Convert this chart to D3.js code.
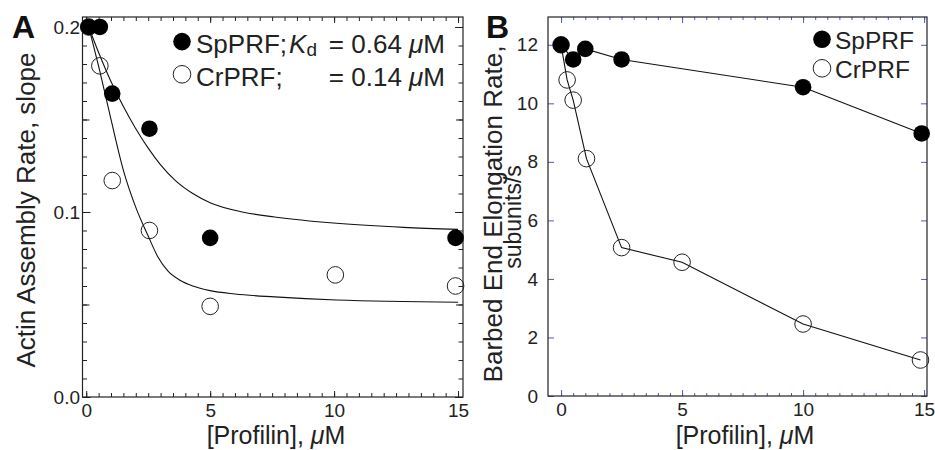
<!DOCTYPE html>
<html>
<head>
<meta charset="utf-8">
<script src="https://cdn.jsdelivr.net/npm/d3@7"></script>
<style>
  body { margin: 0; background: #fff; }
  svg { display: block; font-family: "Liberation Sans", Arial, Helvetica, sans-serif; }
</style>
</head>
<body>
<svg id="chart" width="935" height="450"></svg>
<script>
// A: actin assembly rate (slope) vs [profilin]
var assemblySpX = [0.1, 0.55, 1.05, 2.55, 5.0, 14.9],
    assemblySpY = [0.2, 0.2, 0.164, 0.145, 0.086, 0.086];
var assemblyCrX = [0.1, 0.55, 1.05, 2.55, 5.0, 10.05, 14.9],
    assemblyCrY = [0.2, 0.179, 0.117, 0.09, 0.049, 0.066, 0.06];

// fitted curves
var fitSpX = [0.1, 0.5, 1.0, 1.5, 2.0, 2.5, 3.0, 3.6, 4.3, 5.0, 6.3, 7.6, 10.1, 12.8, 15.0],
    fitSpY = [0.2, 0.1862, 0.1705, 0.157, 0.145, 0.1345, 0.1255, 0.117, 0.11, 0.105, 0.1, 0.0973, 0.0939, 0.0917, 0.0906];
var fitCrX = [0.1, 0.55, 1.0, 1.5, 2.0, 2.5, 2.9, 3.3, 3.8, 4.3, 5.0, 6.0, 7.6, 10.1, 15.0],
    fitCrY = [0.2, 0.176, 0.15, 0.1225, 0.1025, 0.087, 0.0755, 0.068, 0.063, 0.06, 0.0575, 0.0557, 0.0541, 0.0524, 0.0512];

// B: barbed end elongation rate vs [profilin]
var elongSpX = [0, 0.5, 1, 2.5, 10, 14.9],
    elongSpY = [12.0, 11.5, 11.86, 11.5, 10.55, 8.97];
var elongCrX = [0, 0.25, 0.5, 1.05, 2.5, 5, 10, 14.85],
    elongCrY = [12.0, 10.8, 10.11, 8.11, 5.07, 4.57, 2.46, 1.23];

var xMajor = [0, 5, 10, 15],
    xMinor = d3.range(0, 15.01, 0.5);
var yMajorA = [0, 0.1, 0.2], yMidA = [0.05, 0.15], yMinorA = d3.range(0, 0.2001, 0.01);
var yMajorB = [0, 2, 4, 6, 8, 10, 12];

var svg = d3.select("#chart");
var ink = "#222", blue = "#4a5cc0";

function zip(xs, ys) { return xs.map((v, i) => [v, ys[i]]); }

function panel(o) {
  var g = svg.append("g");
  var x = d3.scaleLinear().domain(o.xDomain).range(o.xRange),
      y = d3.scaleLinear().domain(o.yDomain).range(o.yRange);
  var left = o.xRange[0], right = o.xRange[1], bottom = o.yRange[0], top = o.yRange[1];

  function ticks(axis, tr, vals, size, fmt, pad) {
    var a = g.append("g").attr("transform", tr)
      .call(axis.tickValues(vals).tickSize(-size).tickSizeOuter(0)
        .tickPadding(pad || 0).tickFormat(fmt || (() => "")));
    a.select(".domain").remove();
    a.attr("font-size", 19).attr("font-family", null);
    a.selectAll("line").attr("stroke", o.tickColor).attr("stroke-width", 1);
    a.selectAll("text").attr("fill", ink);
  }

  // minor ticks on all four sides, then the major ones
  ticks(d3.axisBottom(x), "translate(0," + bottom + ")", xMinor, o.xMinorLen);
  ticks(d3.axisTop(x), "translate(0," + top + ")", xMinor, o.xMinorLen);
  ticks(d3.axisBottom(x), "translate(0," + bottom + ")", xMajor, 6, d3.format("d"), 6.5);
  ticks(d3.axisTop(x), "translate(0," + top + ")", xMajor, 6);
  o.yExtra.forEach(t => {
    ticks(d3.axisLeft(y), "translate(" + left + ",0)", t.vals, t.len);
    ticks(d3.axisRight(y), "translate(" + right + ",0)", t.vals, t.len);
  });
  ticks(d3.axisLeft(y), "translate(" + left + ",0)", o.yMajor, o.yMajorLen, o.yFormat, o.yPad);
  ticks(d3.axisRight(y), "translate(" + right + ",0)", o.yMajor, o.yMajorLen);

  g.append("rect")
    .attr("x", left).attr("y", top)
    .attr("width", right - left).attr("height", bottom - top)
    .attr("fill", "none").attr("stroke", ink).attr("stroke-width", 1.2);

  // x title
  var xt = g.append("text")
    .attr("x", o.xTitleX).attr("y", 444)
    .attr("text-anchor", "middle").attr("font-size", 25).attr("fill", ink);
  xt.append("tspan").text("[Profilin], ");
  xt.append("tspan").attr("font-style", "italic").text("\u03bc");
  xt.append("tspan").text("M");

  // panel letter
  g.append("text").attr("x", o.letterX).attr("y", 38)
    .attr("font-size", 32).attr("font-weight", "bold").attr("fill", "#111")
    .text(o.letter);

  return { g: g, x: x, y: y };
}

function marks(p, series, curve) {
  var line = d3.line().x(d => p.x(d[0])).y(d => p.y(d[1])).curve(curve);
  series.lines.forEach(pts => {
    p.g.append("path").datum(pts)
      .attr("d", line).attr("fill", "none")
      .attr("stroke", "#111").attr("stroke-width", 1.1);
  });
  p.g.append("g").selectAll("circle").data(series.open).join("circle")
    .attr("cx", d => p.x(d[0])).attr("cy", d => p.y(d[1])).attr("r", 8.3)
    .attr("fill", "none").attr("stroke", ink).attr("stroke-width", 1);
  p.g.append("g").selectAll("circle").data(series.filled).join("circle")
    .attr("cx", d => p.x(d[0])).attr("cy", d => p.y(d[1])).attr("r", 8.3)
    .attr("fill", "#000");
}

// ---- panel A ----
var A = panel({
  xDomain: [-0.15, 15.2], xRange: [82.5, 463],
  yDomain: [0, 0.2054], yRange: [397, 17],
  tickColor: ink, xMinorLen: 4,
  yMajor: yMajorA, yMajorLen: 8, yFormat: d3.format(".1f"), yPad: 2.5,
  yExtra: [{ vals: yMinorA, len: 4.5 }, { vals: yMidA, len: 7 }],
  xTitleX: 276, letter: "A", letterX: 12
});
marks(A, {
  lines: [zip(fitSpX, fitSpY), zip(fitCrX, fitCrY)],
  open: zip(assemblyCrX, assemblyCrY),
  filled: zip(assemblySpX, assemblySpY)
}, d3.curveMonotoneX);

A.g.append("text")
  .attr("transform", "translate(35,210) rotate(-90)")
  .attr("text-anchor", "middle").attr("font-size", 26).attr("fill", ink)
  .text("Actin Assembly Rate, slope");

// legend A
A.g.append("circle").attr("cx", 182).attr("cy", 41.6).attr("r", 8.8).attr("fill", "#000");
A.g.append("circle").attr("cx", 182).attr("cy", 74.3).attr("r", 8.8)
  .attr("fill", "none").attr("stroke", ink).attr("stroke-width", 1);
var l1 = A.g.append("text").attr("x", 196).attr("y", 52.7).attr("font-size", 26).attr("fill", ink);
l1.append("tspan").text("SpPRF;");
l1.append("tspan").attr("dx", 2).attr("font-style", "italic").text("K");
l1.append("tspan").attr("dy", 3).attr("font-size", 19).text("d");
var l2 = A.g.append("text").attr("x", 196).attr("y", 85.5).attr("font-size", 26).attr("fill", ink);
l2.append("tspan").text("CrPRF;");
[["0.64", 52.7], ["0.14", 85.5]].forEach(k => {
  var t = A.g.append("text").attr("x", 445).attr("y", k[1])
    .attr("text-anchor", "end").attr("font-size", 26).attr("fill", ink);
  t.append("tspan").text("= " + k[0] + " ");
  t.append("tspan").attr("font-style", "italic").text("\u03bc");
  t.append("tspan").text("M");
});

// ---- panel B ----
var B = panel({
  xDomain: [-0.54, 15.12], xRange: [548, 927],
  yDomain: [0, 12.95], yRange: [396, 17],
  tickColor: blue, xMinorLen: 3,
  yMajor: yMajorB, yMajorLen: 6, yFormat: d3.format("d"), yPad: 10,
  yExtra: [],
  xTitleX: 745, letter: "B", letterX: 486
});
marks(B, {
  lines: [zip(elongSpX, elongSpY), zip(elongCrX, elongCrY)],
  open: zip(elongCrX, elongCrY),
  filled: zip(elongSpX, elongSpY)
}, d3.curveLinear);

B.g.append("text")
  .attr("transform", "translate(502,214) rotate(-90)")
  .attr("text-anchor", "middle").attr("font-size", 26).attr("fill", ink)
  .text("Barbed End Elongation Rate,");
B.g.append("text")
  .attr("transform", "translate(521,217) rotate(-90)")
  .attr("text-anchor", "middle").attr("font-size", 23).attr("fill", ink)
  .text("subunits/s");

// legend B
B.g.append("circle").attr("cx", 822).attr("cy", 39.3).attr("r", 8.8).attr("fill", "#000");
B.g.append("circle").attr("cx", 822).attr("cy", 68.3).attr("r", 8.8)
  .attr("fill", "none").attr("stroke", ink).attr("stroke-width", 1);
B.g.append("text").attr("x", 835).attr("y", 49).attr("font-size", 24.5).attr("fill", ink).text("SpPRF");
B.g.append("text").attr("x", 835).attr("y", 77.5).attr("font-size", 24.5).attr("fill", ink).text("CrPRF");
</script>
</body>
</html>
